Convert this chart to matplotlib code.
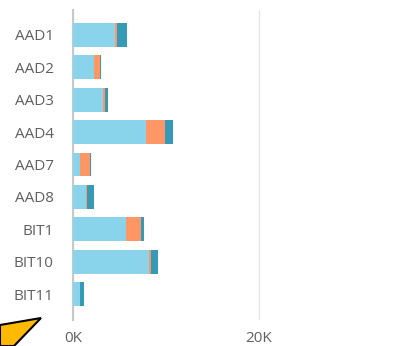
import matplotlib
matplotlib.use("Agg")
import matplotlib.pyplot as plt
from matplotlib.patches import Polygon
from matplotlib.ticker import FuncFormatter

categories = ["AAD1", "AAD2", "AAD3", "AAD4", "AAD7", "AAD8", "BIT1", "BIT10", "BIT11"]
series_a = [4500, 2300, 3200, 7800, 700, 1350, 5700, 8200, 700]
series_b = [250, 550, 250, 2100, 1100, 200, 1600, 200, 0]
series_c = [1100, 150, 300, 800, 100, 700, 300, 750, 500]
x_ticks = [0, 20000]

colors = ["#8AD4EB", "#FE9666", "#3599B8"]

plt.rcParams['font.family'] = ['Open Sans', 'DejaVu Sans']

W, H = 419, 346
fig = plt.figure(figsize=(W / 100, H / 100), dpi=100)
ax = fig.add_axes([73 / W, 1 - 320 / H, (W - 73) / W, (320 - 10) / H])

y = list(range(len(categories)))
left_b = [a for a in series_a]
left_c = [a + b for a, b in zip(series_a, series_b)]
h = 0.74
ax.barh(y, series_a, height=h, color=colors[0], zorder=3)
ax.barh(y, series_b, left=left_b, height=h, color=colors[1], zorder=3)
ax.barh(y, series_c, left=left_c, height=h, color=colors[2], zorder=3)

ax.set_ylim(8.8, -0.77)
ax.set_xlim(0, (W - 73) / 9.3 * 1000)
ax.set_yticks(y)
ax.set_yticklabels(categories)
ax.set_xticks(x_ticks)
ax.xaxis.set_major_formatter(FuncFormatter(lambda v, p: f"{int(v/1000)}K"))
ax.tick_params(axis='both', length=0, colors="#5f5f5f", labelsize=11)
ax.tick_params(axis='y', pad=14)
ax.tick_params(axis='x', pad=8)
for s in ["top", "right", "bottom"]:
    ax.spines[s].set_visible(False)
ax.spines["left"].set_color("#c8c8c8")
ax.spines["left"].set_linewidth(1.5)
ax.grid(axis='x', color="#e6e6e6", linewidth=1, zorder=0)
ax.set_axisbelow(True)

# yellow annotation shape at bottom-left
poly = Polygon([(0, 1 - 325 / H), (41 / W, 1 - 318 / H), (14 / W, 0), (0, 0)],
               closed=True, transform=fig.transFigure, facecolor="#FFB900",
               edgecolor="black", linewidth=1.5, clip_on=False)
fig.patches.append(poly)

fig.savefig("out.png", dpi=100)
